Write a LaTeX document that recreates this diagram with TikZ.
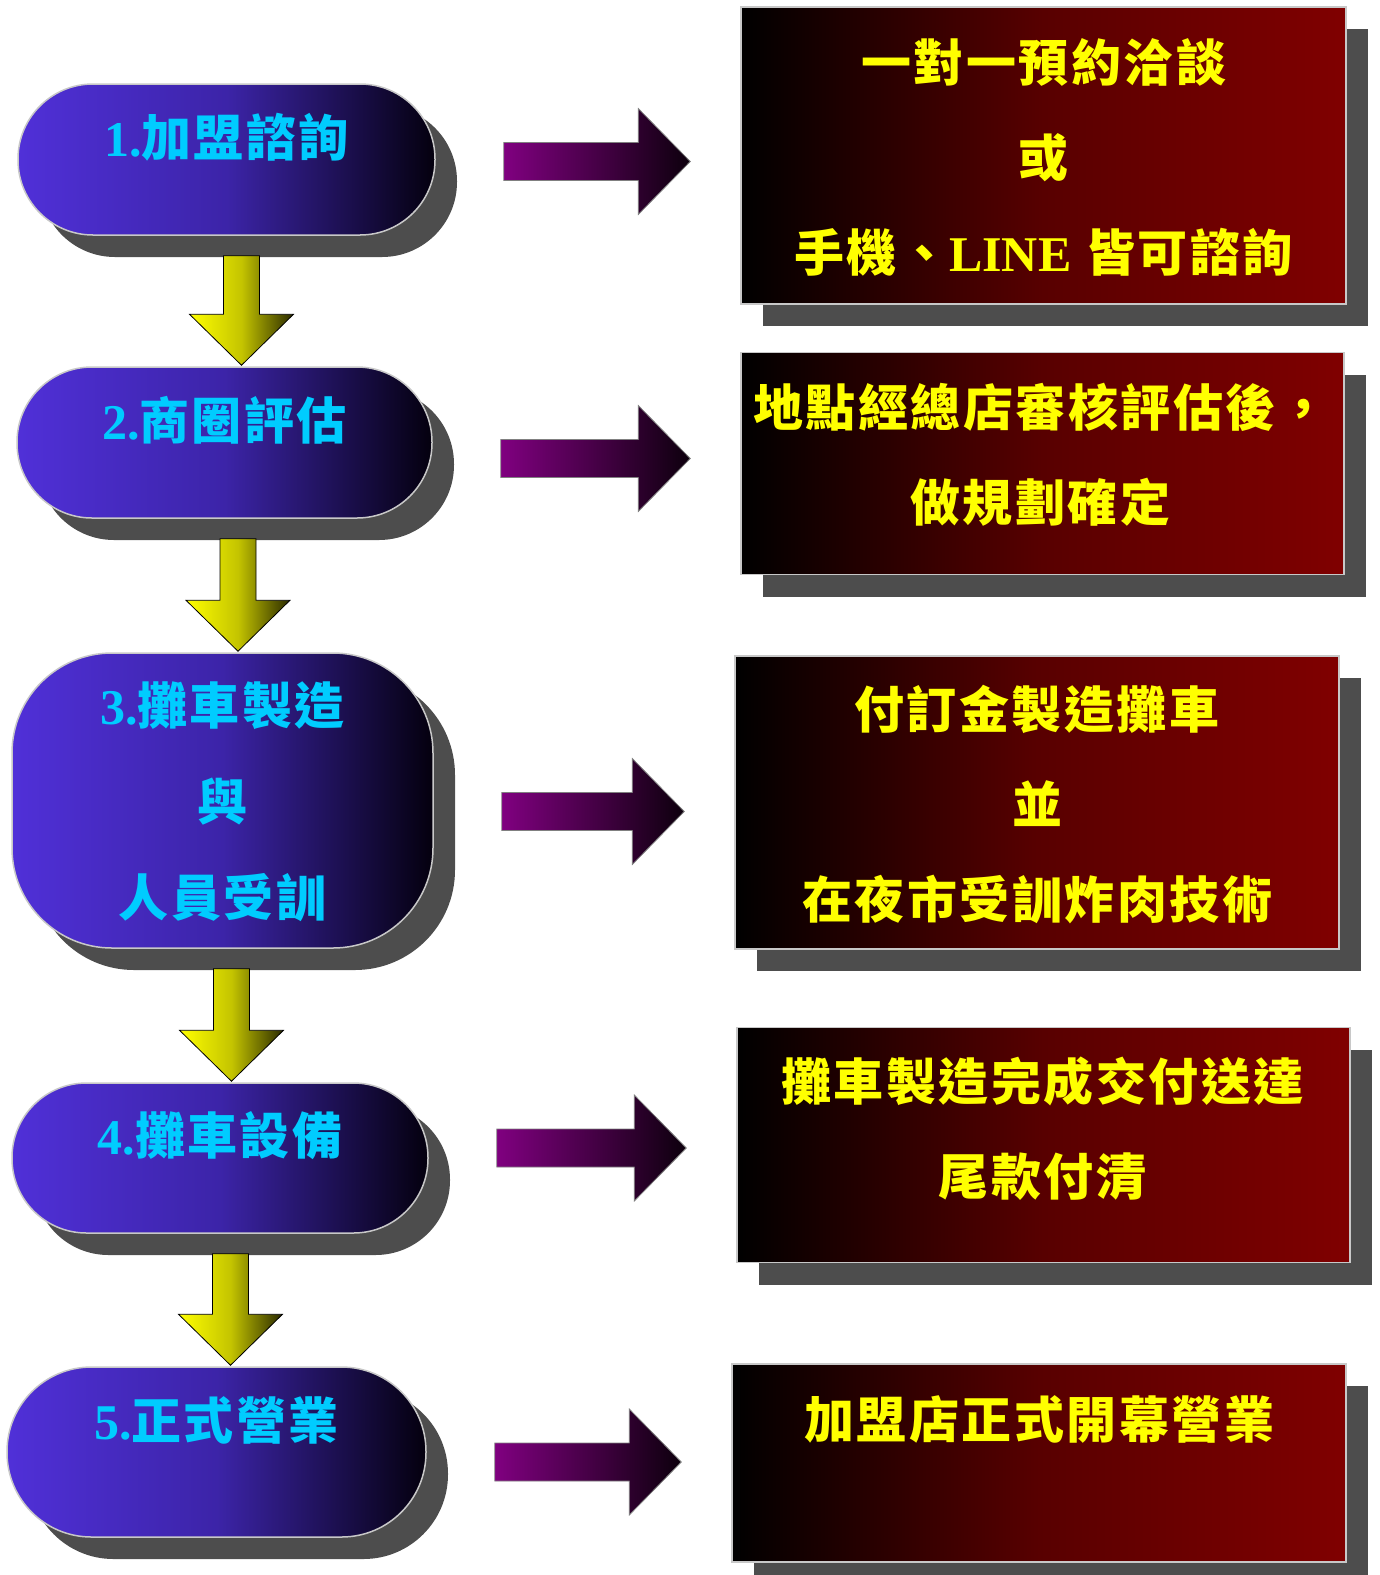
\documentclass[tikz,border=0pt]{standalone}
\usepackage{fontspec}
\setmainfont{Liberation Serif}
\newfontfamily\cjk{Noto Sans CJK TC}[LetterSpace=5]
\newfontfamily\lat{Liberation Serif}
\usetikzlibrary{calc,shadows}

\definecolor{capleft}{HTML}{5030D8}
\definecolor{capmid}{HTML}{3C24A8}
\definecolor{capright}{HTML}{04000E}
\definecolor{capword}{HTML}{00CCFF}
\definecolor{boxmid}{HTML}{580000}
\definecolor{boxright}{HTML}{800000}
\definecolor{boxword}{HTML}{FFFF00}
\definecolor{shadowgrey}{HTML}{4D4D4D}
\definecolor{rimgrey}{HTML}{C8C8C8}
\definecolor{plum}{HTML}{800080}
\definecolor{olive}{HTML}{C4C400}
\definecolor{darkolive}{HTML}{2A2A00}

\tikzset{
  capsule/.style={draw=rimgrey, line width=1.5pt, inner sep=0pt,
    left color=capleft, right color=capright, middle color=capmid,
    general shadow={fill=shadowgrey, shadow xshift=22pt, shadow yshift=-22pt}},
  redbox/.style={draw=rimgrey, line width=1.5pt, inner sep=0pt,
    left color=black, right color=boxright, middle color=boxmid,
    general shadow={fill=shadowgrey, shadow xshift=22pt, shadow yshift=-22pt}},
  captext/.style={font=\cjk\bfseries\fontsize{50pt}{96pt}\selectfont,
    text=capword, align=center, inner sep=0pt},
  boxtext/.style={font=\cjk\bfseries\fontsize{50pt}{95pt}\selectfont,
    text=boxword, align=center, inner sep=0pt},
  downarrow/.style={draw=black, line width=0.8pt,
    left color=yellow, right color=darkolive, middle color=olive},
  sidearrow/.style={draw=gray, line width=0.8pt,
    left color=plum, right color=black!90!plum}
}

% yellow block arrow: capsule, next capsule, x offset
\newcommand{\downblock}[3]{%
  \coordinate (top) at ($(#1.south)+(#3,20)$);
  \coordinate (tip) at ($(top |- #2.north)+(0,-1)$);
  \path[downarrow] ($(top)+(-18,0)$) -- ($(top)+(18,0)$) -- ($(tip)+(18,-51)$)
    -- ($(tip)+(52,-51)$) -- (tip) -- ($(tip)+(-52,-51)$) -- ($(tip)+(-18,-51)$) -- cycle;}

% purple block arrow: capsule, box, y offset
\newcommand{\sideblock}[3]{%
  \coordinate (tail) at ($(#1.east |- #2.west)+(68,#3)$);
  \coordinate (tip) at ($(tail -| #2.west)+(-50,0)$);
  \path[sidearrow] ($(tail)+(0,-19)$) -- ($(tip)+(-52,-19)$) -- ($(tip)+(-52,-53)$)
    -- (tip) -- ($(tip)+(-52,53)$) -- ($(tip)+(-52,19)$) -- ($(tail)+(0,19)$) -- cycle;}

\begin{document}
\begin{tikzpicture}[x=1pt,y=-1pt]
\useasboundingbox (0,0) rectangle (1380,1575);

% steps on the left
\node[capsule, minimum width=417pt, minimum height=151pt, rounded corners=75pt] (c1) at (226.5,159.5) {};
\node[capsule, minimum width=415pt, minimum height=151pt, rounded corners=75pt] (c2) at (224.5,442.5) {};
\node[capsule, minimum width=421pt, minimum height=295pt, rounded corners=100pt] (c3) at (222.5,800.5) {};
\node[capsule, minimum width=416pt, minimum height=150pt, rounded corners=74.5pt] (c4) at (220,1158) {};
\node[capsule, minimum width=419pt, minimum height=170pt, rounded corners=84.5pt] (c5) at (216.5,1452) {};

\node[captext] (t1) at ($(c1)+(0,-22)$) {{\lat 1.}加盟諮詢};
\node[captext] (t2) at ($(c2)+(0,-22)$) {{\lat 2.}商圈評估};
\node[captext] (t3) at ($(c3)+(0,1)$) {{\lat 3.}攤車製造\\與\\人員受訓};
\node[captext] (t4) at ($(c4)+(0,-22)$) {{\lat 4.}攤車設備};
\node[captext] (t5) at ($(c5)+(0,-32)$) {{\lat 5.}正式營業};

% details on the right
\node[redbox, minimum width=605pt, minimum height=297pt] (b1) at (1043.5,155.5) {};
\node[redbox, minimum width=603pt, minimum height=222pt] (b2) at (1042.5,463.5) {};
\node[redbox, minimum width=604pt, minimum height=293pt] (b3) at (1037,802.5) {};
\node[redbox, minimum width=613pt, minimum height=235pt] (b4) at (1043.5,1145) {};
\node[redbox, minimum width=614pt, minimum height=198pt] (b5) at (1039,1463) {};

\node[boxtext] (s1) at ($(b1)+(0,2)$) {一對一預約洽談\\或\\手機、{\lat LINE} 皆可諮詢};
\node[boxtext] (s2) at ($(b2)+(-2,-9)$) {地點經總店審核評估後，\\做規劃確定};
\node[boxtext] (s3) at ($(b3)+(0,2)$) {付訂金製造攤車\\並\\在夜市受訓炸肉技術};
\node[boxtext] (s4) at ($(b4)+(-1,-16)$) {攤車製造完成交付送達\\尾款付清};
\node[boxtext] (s5) at ($(b5)+(0,-44)$) {加盟店正式開幕營業};

% arrows
\downblock{c1}{c2}{15}
\downblock{c2}{c3}{13.5}
\downblock{c3}{c4}{9}
\downblock{c4}{c5}{10.5}

\sideblock{c1}{b1}{6}
\sideblock{c2}{b2}{-5}
\sideblock{c3}{b3}{9}
\sideblock{c4}{b4}{3}
\sideblock{c5}{b5}{-1}
\end{tikzpicture}
\end{document}
